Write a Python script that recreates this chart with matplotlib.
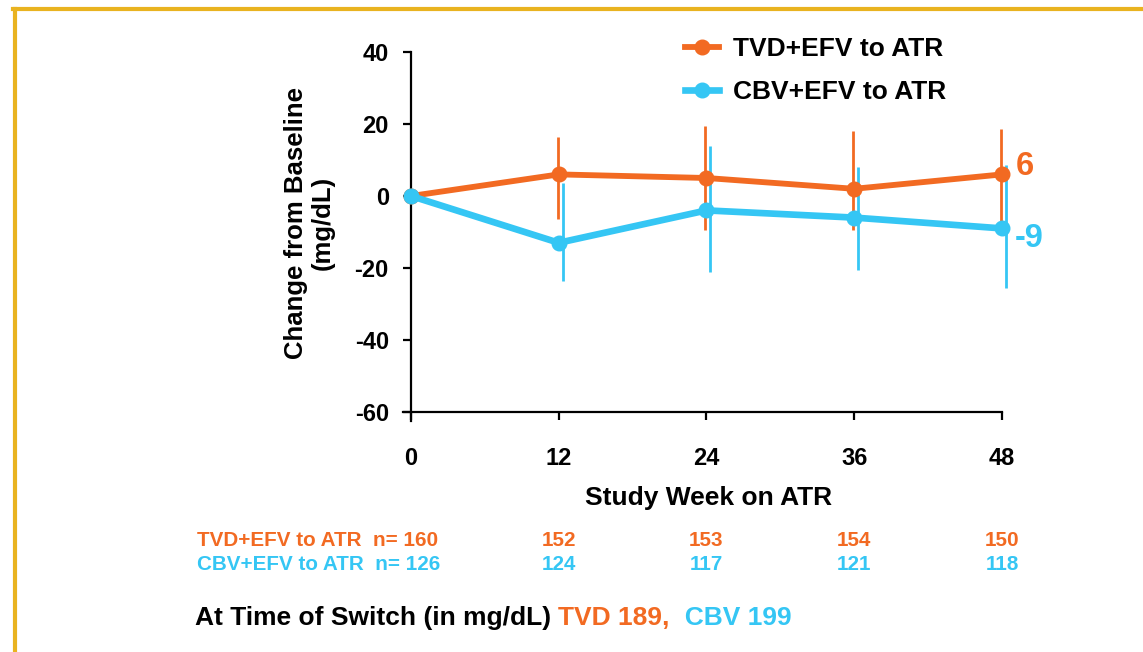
import matplotlib
matplotlib.use("Agg")
import matplotlib.pyplot as plt
from matplotlib.lines import Line2D
import matplotlib.transforms as mtransforms

plt.rcParams['font.family'] = ['Liberation Sans', 'DejaVu Sans']
plt.rcParams['font.weight'] = 'bold'

weeks = [0, 12, 24, 36, 48]
tvd_mean = [0, 6, 5, 2, 6]
tvd_low = [0, -6.5, -9.5, -9.5, -9.5]
tvd_high = [0, 16.5, 19.5, 18, 18.5]
cbv_mean = [0, -13, -4, -6, -9]
cbv_low = [0, -23.5, -21, -20.5, -25.5]
cbv_high = [0, 3.5, 14, 8, 8.5]
tvd_n = [160, 152, 153, 154, 150]
cbv_n = [126, 124, 117, 121, 118]
series_labels = ["TVD+EFV to ATR", "CBV+EFV to ATR"]
end_labels = ["6", "-9"]
yticks = [40, 20, 0, -20, -40, -60]

ORANGE = "#F26A22"
BLUE = "#35C6F4"
GOLD = "#E9B320"

W, H = 1143, 652
fig = plt.figure(figsize=(W / 100, H / 100), dpi=100)

# gold frame (left and top)
fig.add_artist(Line2D([15 / W, 15 / W], [0, 1 - 9 / H], color=GOLD, lw=3.0, transform=fig.transFigure))
fig.add_artist(Line2D([13 / W, 1], [1 - 9 / H, 1 - 9 / H], color=GOLD, lw=3.0, transform=fig.transFigure))

xmin, xmax = -0.65, 48
ymin, ymax = -62.5, 40
px_per_x = (1002 - 411) / 48
px_per_y = (412 - 52) / 100
left_px = 411 - (0 - xmin) * px_per_x
bottom_px = 412 + (-60 - ymin) * px_per_y
ax = fig.add_axes([left_px / W, 1 - bottom_px / H, (1002 - left_px) / W, (bottom_px - 52) / H])
ax.set_xlim(xmin, xmax)
ax.set_ylim(ymin, ymax)
ax.patch.set_alpha(0)

for s in ['top', 'right']:
    ax.spines[s].set_visible(False)
ax.spines['left'].set_position(('data', 0))
ax.spines['bottom'].set_position(('data', -60))
ax.spines['left'].set_linewidth(1.6)
ax.spines['bottom'].set_linewidth(1.6)

ax.set_xticks(weeks)
ax.set_yticks(yticks)
ax.set_yticklabels([str(v) for v in yticks])
ax.tick_params(axis='y', direction='out', length=6, width=1.6, pad=10, labelsize=17)
ax.tick_params(axis='x', direction='out', length=6, width=1.6, pad=19, labelsize=17)
for lab in ax.get_xticklabels() + ax.get_yticklabels():
    lab.set_fontweight('bold')

# error bars (blue ones drawn a few pixels to the right, as in the original)
tvd_err = [[m - lo for m, lo in zip(tvd_mean, tvd_low)], [hi - m for m, hi in zip(tvd_mean, tvd_high)]]
cbv_err = [[m - lo for m, lo in zip(cbv_mean, cbv_low)], [hi - m for m, hi in zip(cbv_mean, cbv_high)]]
for mean, err, col, dx in [(tvd_mean, tvd_err, ORANGE, -1), (cbv_mean, cbv_err, BLUE, 4)]:
    eb = ax.errorbar(weeks, mean, yerr=err, fmt='none', ecolor=col, elinewidth=2.0, capsize=0, zorder=2)
    for c in eb.lines[2]:
        c.set_clip_on(False)
        c.set_transform(ax.transData + mtransforms.ScaledTranslation(dx / 100, 0, fig.dpi_scale_trans))
ax.plot(weeks, tvd_mean, color=ORANGE, lw=4.2, marker='o', ms=10.5, label=series_labels[0], zorder=3, clip_on=False)
ax.plot(weeks, cbv_mean, color=BLUE, lw=4.8, marker='o', ms=10.5, label=series_labels[1], zorder=4, clip_on=False)

ax.annotate(end_labels[0], xy=(weeks[-1], tvd_mean[-1]), xytext=(10, 6), textcoords='offset points',
            color=ORANGE, fontsize=23.5, fontweight='bold', ha='left', va='center', annotation_clip=False)
ax.annotate(end_labels[1], xy=(weeks[-1], cbv_mean[-1]), xytext=(9, -7), textcoords='offset points',
            color=BLUE, fontsize=23.5, fontweight='bold', ha='left', va='center', annotation_clip=False)

leg = ax.legend(loc='upper left', bbox_to_anchor=(685 / W, 1 - 37 / H), bbox_transform=fig.transFigure,
                frameon=False, fontsize=19, handlelength=1.3, handletextpad=0.52, labelspacing=0.72,
                borderaxespad=0, borderpad=0)
for t in leg.get_texts():
    t.set_fontweight('bold')

# axis labels
fig.text(309 / W, 1 - 223 / H, "Change from Baseline\n(mg/dL)", rotation=90, ha='center', va='center',
         fontsize=18.5, fontweight='bold', linespacing=1.15)
fig.text(709 / W, 1 - 498 / H, "Study Week on ATR", ha='center', va='center', fontsize=19, fontweight='bold')

# n table
tr = mtransforms.blended_transform_factory(ax.transData, fig.transFigure)
row_y = [1 - 540 / H, 1 - 564 / H]
for ri, (ns, col, name) in enumerate([(tvd_n, ORANGE, series_labels[0]), (cbv_n, BLUE, series_labels[1])]):
    for wi, (w, n) in enumerate(zip(weeks, ns)):
        if wi == 0:
            ax.text(0, row_y[ri], f"{name}  n= {n}", ha='right', va='center', fontsize=14.9,
                    fontweight='bold', color=col,
                    transform=tr + mtransforms.ScaledTranslation((27 + ri * 2) / 100, 0, fig.dpi_scale_trans))
        else:
            ax.text(w, row_y[ri], str(n), transform=tr, ha='center', va='center',
                    fontsize=14.9, fontweight='bold', color=col)

# switch line
t1 = fig.text(195 / W, 1 - 618 / H, "At Time of Switch (in mg/dL) ", ha='left', va='center',
              fontsize=19.0, fontweight='bold', color='black')
a2 = ax.annotate("TVD 189,", xy=(1, 0), xycoords=t1, va='bottom', ha='left',
                 fontsize=19.0, fontweight='bold', color=ORANGE, annotation_clip=False)
a3 = ax.annotate("  CBV 199", xy=(1, 0), xycoords=a2, va='bottom', ha='left',
                 fontsize=19.0, fontweight='bold', color=BLUE, annotation_clip=False)

fig.savefig("out.png", dpi=100)
